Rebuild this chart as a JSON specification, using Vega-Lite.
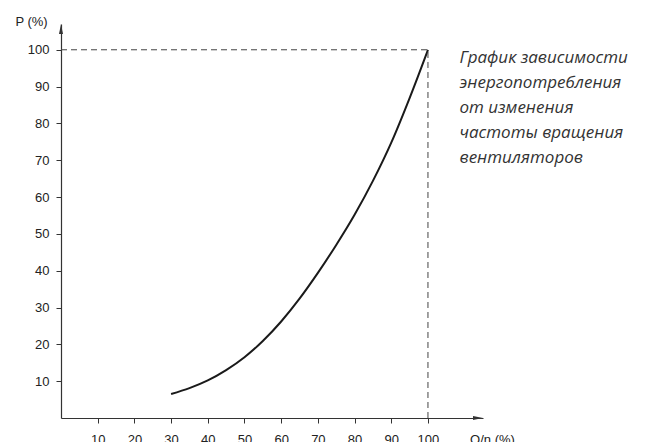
{
  "$schema": "https://vega.github.io/schema/vega-lite/v6.json",
  "width": 422,
  "height": 394,
  "autosize": "none",
  "padding": {"left": 61, "top": 24, "right": 186, "bottom": 24},
  "config": {"view": {"stroke": null}, "font": "Liberation Sans"},
  "datasets": {
    "curve": [
      {"q": 30, "p": 6.5}, {"q": 35, "p": 8.1}, {"q": 40, "p": 10.2}, {"q": 45, "p": 13.0},
      {"q": 50, "p": 16.5}, {"q": 55, "p": 20.9}, {"q": 60, "p": 26.2}, {"q": 65, "p": 32.4},
      {"q": 70, "p": 39.4}, {"q": 75, "p": 47.0}, {"q": 80, "p": 55.2}, {"q": 85, "p": 64.4},
      {"q": 90, "p": 74.8}, {"q": 95, "p": 86.9}, {"q": 100, "p": 100}
    ],
    "guides": [
      {"q": 0, "q2": 100, "p": 100, "p2": 100},
      {"q": 100, "q2": 100, "p": 0, "p2": 100}
    ],
    "xend": [{"q": 115, "p": 0}],
    "yend": [{"q": 0, "p": 107}],
    "note": [{"q": 108.6, "p": 99.9, "label": "График зависимости\nэнергопотребления\nот изменения\nчастоты вращения\nвентиляторов"}]
  },
  "layer": [
    {
      "data": {"name": "curve"},
      "mark": {"type": "line", "interpolate": "monotone", "color": "#1a1a1a", "strokeWidth": 2},
      "encoding": {
        "x": {
          "field": "q", "type": "quantitative",
          "scale": {"domain": [0, 115], "nice": false, "zero": false},
          "axis": {
            "values": [10, 20, 30, 40, 50, 60, 70, 80, 90, 100],
            "grid": false, "domainColor": "#333", "domainWidth": 1.2,
            "tickColor": "#333", "tickSize": 5, "labelPadding": 10,
            "labelFontSize": 13, "labelColor": "#222", "labelFlush": false,
            "labelBaseline": "top",
            "title": "Q/n (%)", "titleFontSize": 13, "titleFontWeight": "normal",
            "titleColor": "#222", "titleX": 431, "titleY": 15,
            "titleAlign": "center", "titleBaseline": "top"
          }
        },
        "y": {
          "field": "p", "type": "quantitative",
          "scale": {"domain": [0, 107], "nice": false, "zero": false},
          "axis": {
            "values": [10, 20, 30, 40, 50, 60, 70, 80, 90, 100],
            "grid": false, "domainColor": "#333", "domainWidth": 1.2,
            "tickColor": "#333", "tickSize": 5, "labelPadding": 7,
            "labelFontSize": 13, "labelColor": "#222",
            "title": "P (%)", "titleFontSize": 13, "titleFontWeight": "normal",
            "titleColor": "#222", "titleAngle": 0, "titleX": -30, "titleY": -3,
            "titleAlign": "center", "titleBaseline": "middle"
          }
        }
      }
    },
    {
      "data": {"name": "guides"},
      "mark": {"type": "rule", "color": "#444", "strokeWidth": 1, "strokeDash": [6, 4]},
      "encoding": {
        "x": {"field": "q", "type": "quantitative"},
        "x2": {"field": "q2"},
        "y": {"field": "p", "type": "quantitative"},
        "y2": {"field": "p2"}
      }
    },
    {
      "data": {"name": "xend"},
      "mark": {"type": "point", "shape": "M1,0L-1,-0.4L-1,0.4Z", "filled": true, "color": "#333", "size": 100, "xOffset": -5, "opacity": 1, "clip": false},
      "encoding": {
        "x": {"field": "q", "type": "quantitative"},
        "y": {"field": "p", "type": "quantitative"}
      }
    },
    {
      "data": {"name": "yend"},
      "mark": {"type": "point", "shape": "M0,-1L0.4,1L-0.4,1Z", "filled": true, "color": "#333", "size": 100, "yOffset": 5, "opacity": 1, "clip": false},
      "encoding": {
        "x": {"field": "q", "type": "quantitative"},
        "y": {"field": "p", "type": "quantitative"}
      }
    },
    {
      "data": {"name": "note"},
      "mark": {"type": "text", "font": "Open Sans", "fontStyle": "italic", "fontSize": 17, "lineHeight": 25, "color": "#333", "align": "left", "baseline": "top", "lineBreak": "\n", "clip": false},
      "encoding": {
        "x": {"field": "q", "type": "quantitative"},
        "y": {"field": "p", "type": "quantitative"},
        "text": {"field": "label"}
      }
    }
  ]
}
